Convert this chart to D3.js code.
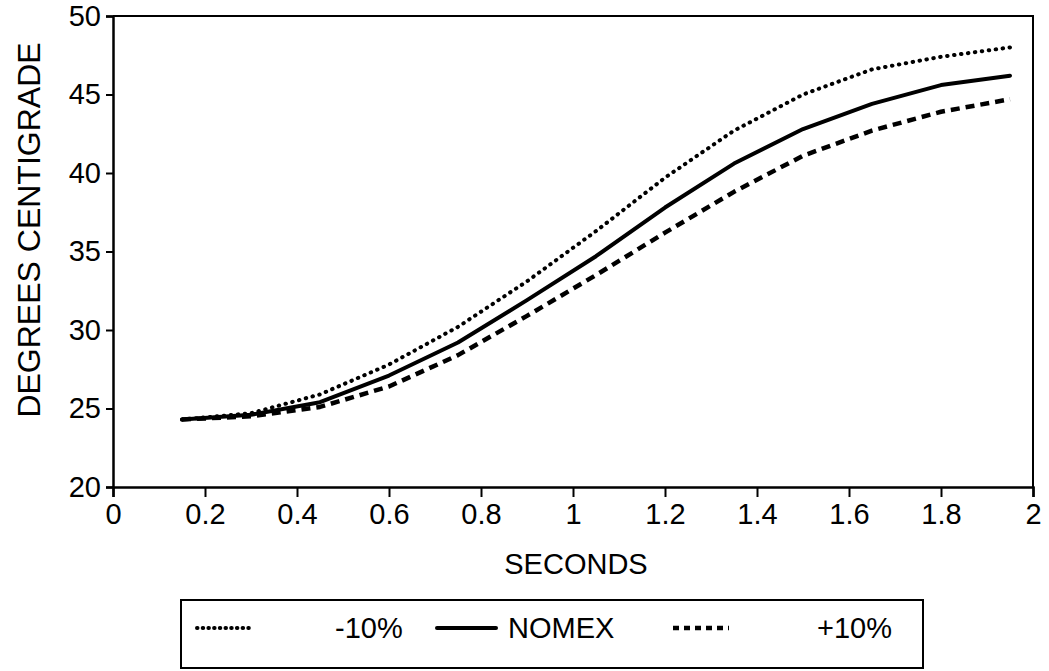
<!DOCTYPE html>
<html>
<head>
<meta charset="utf-8">
<script src="https://cdn.jsdelivr.net/npm/d3@7"></script>
<style>
  html, body { margin: 0; padding: 0; background: #fff; }
  svg { display: block; }
  text { font-family: "Liberation Sans", Arial, Helvetica, sans-serif; fill: #000; }
</style>
</head>
<body>
<svg id="chart" width="1049" height="671"></svg>
<script>
// ---- data ----
const seconds   = [0.15, 0.3, 0.45, 0.6, 0.75, 0.9, 1.05, 1.2, 1.35, 1.5, 1.65, 1.8, 1.95];
const minus10   = [24.3, 24.7, 25.9, 27.8, 30.2, 33.1, 36.3, 39.7, 42.7, 45.0, 46.6, 47.4, 48.0];
const nomex     = [24.3, 24.6, 25.4, 27.1, 29.2, 31.9, 34.7, 37.8, 40.6, 42.8, 44.4, 45.6, 46.2];
const plus10    = [24.3, 24.5, 25.1, 26.4, 28.4, 30.9, 33.5, 36.2, 38.8, 41.1, 42.7, 43.9, 44.7];
const seriesNames = ["-10%", "NOMEX", "+10%"];
const xTicks = [0, 0.2, 0.4, 0.6, 0.8, 1, 1.2, 1.4, 1.6, 1.8, 2];
const yTicks = [20, 25, 30, 35, 40, 45, 50];
const xTitle = "SECONDS";
const yTitle = "DEGREES CENTIGRADE";

// ---- layout ----
const svg = d3.select("#chart");
const L = 113, R = 1033, T = 16, B = 487;
const x = d3.scaleLinear().domain([0, 2]).range([L, R]);
const y = d3.scaleLinear().domain([20, 50]).range([B, T]);
const FONT = '"Liberation Sans", Arial, sans-serif';

// frame (top & right)
svg.append("path")
  .attr("d", `M${L},${T}H${R}V${B}`)
  .attr("fill", "none").attr("stroke", "#000").attr("stroke-width", 2);

// axes
const xAxis = d3.axisBottom(x).tickValues(xTicks).tickSize(10).tickPadding(6)
  .tickFormat(d => d3.format("")(d));
const gx = svg.append("g").attr("transform", `translate(0,${B})`).call(xAxis);
gx.attr("font-size", 29).attr("font-family", FONT);
gx.select(".domain").attr("stroke-width", 2.5);
gx.selectAll(".tick line").attr("stroke-width", 2);
gx.selectAll("text").attr("fill", "#000");

const yAxis = d3.axisLeft(y).tickValues(yTicks).tickSize(7).tickPadding(5);
const gy = svg.append("g").attr("transform", `translate(${L},0)`).call(yAxis);
gy.attr("font-size", 29).attr("font-family", FONT);
gy.select(".domain").attr("stroke-width", 2.5);
gy.selectAll(".tick line").attr("stroke-width", 2);
gy.selectAll("text").attr("fill", "#000");

// titles
svg.append("text").attr("x", 576).attr("y", 574).attr("text-anchor", "middle")
  .attr("font-size", 29).text(xTitle);
svg.append("text").attr("transform", "translate(40,230) rotate(-90)")
  .attr("text-anchor", "middle").attr("font-size", 32).text(yTitle);

// lines
const styles = [
  { data: minus10, dash: "0.5,6.5", width: 4,   cap: "round", legendDash: "0.5,5.2" },
  { data: nomex,   dash: null,      width: 4,   cap: "round", legendDash: null },
  { data: plus10,  dash: "9,6",     width: 4.5, cap: "butt",  legendDash: "6,5" }
];
const line = d3.line().x((d, i) => x(seconds[i])).y(d => y(d));
styles.forEach(s => {
  svg.append("path").datum(s.data)
    .attr("d", line)
    .attr("fill", "none").attr("stroke", "#000")
    .attr("stroke-width", s.width)
    .attr("stroke-linecap", s.cap)
    .attr("stroke-linejoin", "round")
    .attr("stroke-dasharray", s.dash);
});

// legend
const lg = svg.append("g");
lg.append("rect").attr("x", 181).attr("y", 600).attr("width", 742).attr("height", 68)
  .attr("fill", "none").attr("stroke", "#000").attr("stroke-width", 2);
const legendItems = [
  { name: seriesNames[0], x1: 197, x2: 253, tx: 335, style: styles[0] },
  { name: seriesNames[1], x1: 437, x2: 496, tx: 508, style: styles[1] },
  { name: seriesNames[2], x1: 673, x2: 729, tx: 817, style: styles[2] }
];
legendItems.forEach(it => {
  lg.append("line").attr("x1", it.x1).attr("x2", it.x2).attr("y1", 628).attr("y2", 628)
    .attr("stroke", "#000").attr("stroke-width", it.style.width)
    .attr("stroke-linecap", it.style.cap)
    .attr("stroke-dasharray", it.style.legendDash);
  lg.append("text").attr("x", it.tx).attr("y", 638).attr("font-size", 29)
    .text(it.name);
});
</script>
</body>
</html>
